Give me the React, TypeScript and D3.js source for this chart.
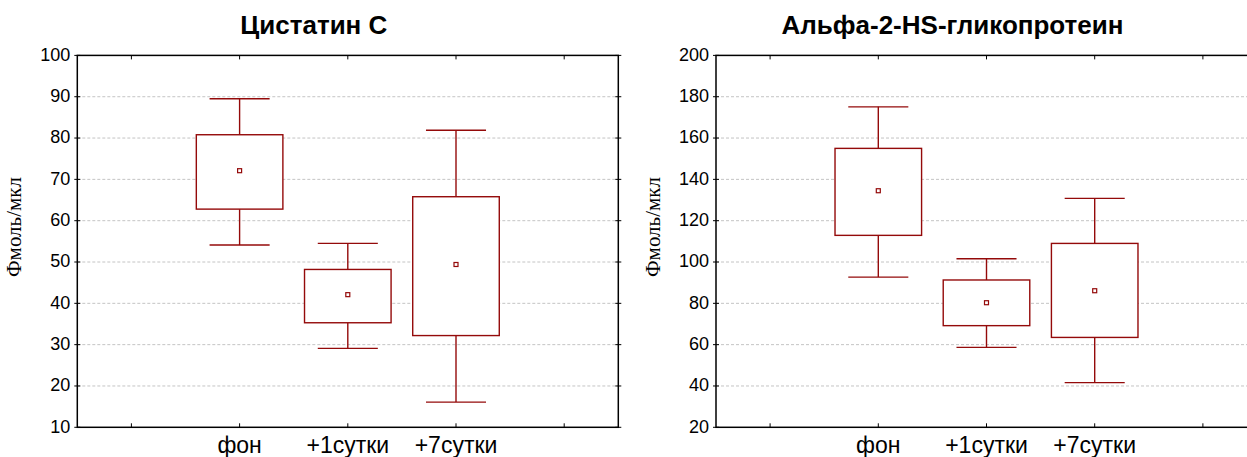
import React from 'react';
import * as d3 from 'd3';

// groups on the x axis (the empty slots at both ends are the spare tick positions)
const categories = ['фон', '+1сутки', '+7сутки'];
const slots = ['s0', ...categories, 's4'];

// Цистатин С
const cysMin = [54.1, 29.1, 16.1];
const cysQ1 = [62.8, 35.3, 32.2];
const cysMean = [72.1, 42.1, 49.4];
const cysQ3 = [80.8, 48.2, 65.8];
const cysMax = [89.5, 54.5, 81.9];
const cysTicks = [10, 20, 30, 40, 50, 60, 70, 80, 90, 100];

// Альфа-2-HS-гликопротеин
const fetMin = [92.7, 58.7, 41.6];
const fetQ1 = [112.9, 69.2, 63.5];
const fetMean = [134.5, 80.3, 86.1];
const fetQ3 = [155, 91.3, 109];
const fetMax = [175.1, 101.6, 130.8];
const fetTicks = [20, 40, 60, 80, 100, 120, 140, 160, 180, 200];

const BOX = '#940a0a';

type PanelProps = {
  title: string;
  left: number;
  min: number[];
  q1: number[];
  mean: number[];
  q3: number[];
  max: number[];
  ticks: number[];
};

const Panel = ({ title, left, min, q1, mean, q3, max, ticks }: PanelProps) => {
  const top = 55.4;
  const bottom = 427.3;
  const width = 541;
  const right = left + width;

  const x = d3.scaleBand().domain(slots).range([left, right]).padding(0);
  const y = d3
    .scaleLinear()
    .domain([ticks[0], ticks[ticks.length - 1]])
    .range([bottom, top]);

  const bw = x.bandwidth();
  const boxW = bw * 0.8;
  const capW = bw * 0.555;
  const cx = (c: string) => (x(c) as number) + bw / 2;

  return (
    <g>
      <text
        x={left + width / 2 - 34}
        y={34}
        textAnchor="middle"
        fontFamily="Arial, 'Liberation Sans', sans-serif"
        fontWeight="bold"
        fontSize={26}
        fill="#000"
      >
        {title}
      </text>

      {/* grid */}
      {ticks.slice(1, -1).map((t) => (
        <line
          key={'g' + t}
          x1={left}
          x2={right}
          y1={y(t)}
          y2={y(t)}
          stroke="#c4c4c4"
          strokeWidth={1}
          strokeDasharray="3,2"
        />
      ))}

      {/* y tick labels */}
      {ticks.map((t) => (
        <g key={'t' + t}>
          <line x1={left - 3} x2={left + 3} y1={y(t)} y2={y(t)} stroke="#000" />
          <line x1={right - 3} x2={right + 3} y1={y(t)} y2={y(t)} stroke="#000" />
          <text
            x={left - 7}
            y={y(t)}
            dy="0.3em"
            textAnchor="end"
            fontFamily="Arial, 'Liberation Sans', sans-serif"
            fontSize={18}
            fill="#000"
          >
            {t}
          </text>
        </g>
      ))}

      {/* x ticks, top and bottom, pointing inward */}
      {slots.map((s) => (
        <g key={'x' + s}>
          <line x1={cx(s)} x2={cx(s)} y1={bottom} y2={bottom - 4} stroke="#000" />
          <line x1={cx(s)} x2={cx(s)} y1={top} y2={top + 4} stroke="#000" />
        </g>
      ))}
      {categories.map((c) => (
        <text
          key={'l' + c}
          x={cx(c)}
          y={453}
          textAnchor="middle"
          fontFamily="Arial, 'Liberation Sans', sans-serif"
          fontSize={23}
          fill="#000"
        >
          {c}
        </text>
      ))}

      <text
        transform={`translate(${left - 56},227) rotate(-90)`}
        textAnchor="middle"
        fontFamily="'Liberation Serif', 'Times New Roman', serif"
        fontSize={21}
        fill="#000"
      >
        Фмоль/мкл
      </text>

      {/* boxes */}
      {categories.map((c, i) => (
        <g key={'b' + c} stroke={BOX} strokeWidth={1.4} fill="none">
          <line x1={cx(c)} x2={cx(c)} y1={y(max[i])} y2={y(q3[i])} />
          <line x1={cx(c)} x2={cx(c)} y1={y(q1[i])} y2={y(min[i])} />
          <line x1={cx(c) - capW / 2} x2={cx(c) + capW / 2} y1={y(max[i])} y2={y(max[i])} />
          <line x1={cx(c) - capW / 2} x2={cx(c) + capW / 2} y1={y(min[i])} y2={y(min[i])} />
          <rect
            x={cx(c) - boxW / 2}
            y={y(q3[i])}
            width={boxW}
            height={y(q1[i]) - y(q3[i])}
            fill="#fff"
          />
          <rect x={cx(c) - 2} y={y(mean[i]) - 2} width={4} height={4} fill="#fff" strokeWidth={1.2} />
        </g>
      ))}

      {/* frame */}
      <rect x={left} y={top} width={width} height={bottom - top} fill="none" stroke="#000" strokeWidth={1.5} />
    </g>
  );
};

export default function App() {
  return (
    <div style={{ position: 'absolute', left: 0, top: 0 }}>
      <svg width={1247} height={457} style={{ display: 'block', background: '#fff' }}>
        <Panel
          title="Цистатин С"
          left={77.3}
          min={cysMin}
          q1={cysQ1}
          mean={cysMean}
          q3={cysQ3}
          max={cysMax}
          ticks={cysTicks}
        />
        <Panel
          title="Альфа-2-HS-гликопротеин"
          left={716}
          min={fetMin}
          q1={fetQ1}
          mean={fetMean}
          q3={fetQ3}
          max={fetMax}
          ticks={fetTicks}
        />
      </svg>
    </div>
  );
}
